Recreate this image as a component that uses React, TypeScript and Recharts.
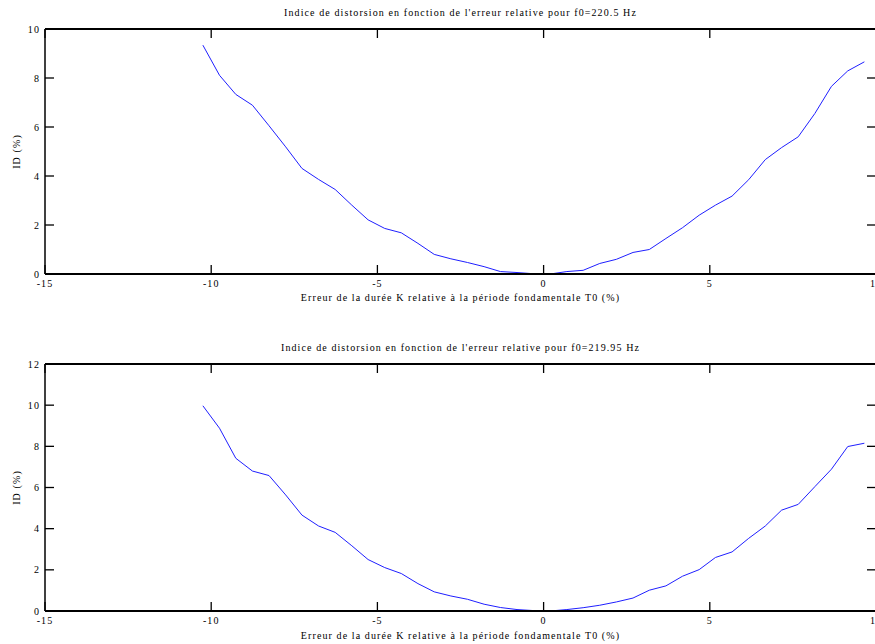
import { LineChart, Line, XAxis, YAxis } from "recharts";

// erreur relative (%) de la durée K par rapport à T0
const errPct = [
  -10.25, -9.75, -9.26, -8.76, -8.26, -7.76, -7.27, -6.77, -6.27, -5.77,
  -5.28, -4.78, -4.28, -3.78, -3.29, -2.79, -2.29, -1.79, -1.3, -0.8,
  -0.3, 0.2, 0.7, 1.19, 1.69, 2.19, 2.69, 3.18, 3.68, 4.18,
  4.68, 5.17, 5.67, 6.17, 6.67, 7.16, 7.66, 8.16, 8.66, 9.15, 9.65,
];

// ID (%) pour f0 = 220.5 Hz
const idF220_5 = [
  9.34, 8.11, 7.33, 6.89, 6.05, 5.19, 4.31, 3.86, 3.45, 2.81,
  2.21, 1.86, 1.68, 1.25, 0.8, 0.62, 0.47, 0.3, 0.1, 0.06,
  0.01, 0.0, 0.1, 0.15, 0.43, 0.6, 0.88, 1.0, 1.45, 1.89,
  2.4, 2.81, 3.18, 3.85, 4.67, 5.16, 5.6, 6.55, 7.66, 8.29, 8.66,
];

// ID (%) pour f0 = 219.95 Hz
const idF219_95 = [
  9.97, 8.88, 7.42, 6.8, 6.58, 5.64, 4.66, 4.13, 3.82, 3.17,
  2.5, 2.11, 1.82, 1.33, 0.93, 0.73, 0.57, 0.33, 0.17, 0.07,
  0.02, 0.0, 0.07, 0.16, 0.28, 0.44, 0.63, 1.01, 1.22, 1.69,
  2.01, 2.6, 2.87, 3.53, 4.13, 4.9, 5.18, 6.04, 6.89, 7.99, 8.15,
];

const xTicks = [-15, -10, -5, 0, 5, 10];
const yTicksTop = [0, 2, 4, 6, 8, 10];
const yTicksBottom = [0, 2, 4, 6, 8, 10, 12];

const titleTop = "Indice de distorsion en fonction de l'erreur relative pour f0=220.5 Hz";
const titleBottom = "Indice de distorsion en fonction de l'erreur relative pour f0=219.95 Hz";
const xLabel = "Erreur de la durée K relative à la période fondamentale T0 (%)";
const yLabel = "ID (%)";

const FONT = '"Liberation Serif", "Times New Roman", serif';
const textStyle = { fontFamily: FONT, fontSize: 10, fill: "#000" };
const tickStroke = { stroke: "#000", strokeWidth: 1.3 };

// miroir des graduations (haut / droite) : traits seulement, pas de texte
const noLabel = () => <g />;

interface PanelProps {
  values: number[];
  title: string;
  yTicks: number[];
  height: number;
  marginTop: number;
  xAxisHeight: number;
  xLabelOffset: number;
}

function Panel({ values, title, yTicks, height, marginTop, xAxisHeight, xLabelOffset }: PanelProps) {
  const data = errPct.map((x, i) => ({ x, id: values[i] }));
  const yDomain = [yTicks[0], yTicks[yTicks.length - 1]];

  return (
    <LineChart
      width={890}
      height={height}
      data={data}
      margin={{ top: marginTop, right: 13, bottom: 0, left: 0 }}
    >
      <XAxis
        dataKey="x"
        type="number"
        domain={[-15, 10]}
        ticks={xTicks}
        interval={0}
        allowDataOverflow
        height={xAxisHeight}
        tickSize={-9}
        tickMargin={15}
        tick={textStyle}
        tickLine={tickStroke}
        axisLine={{ stroke: "#000", strokeWidth: 2 }}
        label={{ value: xLabel, position: "insideBottom", offset: xLabelOffset, ...textStyle }}
      />
      <XAxis
        xAxisId="top"
        dataKey="x"
        type="number"
        orientation="top"
        domain={[-15, 10]}
        ticks={xTicks}
        interval={0}
        allowDataOverflow
        height={1}
        tickSize={-9}
        tick={noLabel}
        tickLine={tickStroke}
        axisLine={{ stroke: "#000", strokeWidth: 2 }}
        label={{ value: title, position: "top", offset: 12, ...textStyle }}
      />
      <YAxis
        type="number"
        domain={yDomain}
        ticks={yTicks}
        interval={0}
        allowDataOverflow
        width={45}
        tickSize={-9}
        tickMargin={14}
        tick={textStyle}
        tickLine={tickStroke}
        axisLine={{ stroke: "#000", strokeWidth: 1.5 }}
        label={{
          value: yLabel,
          angle: -90,
          position: "insideLeft",
          offset: 16,
          textAnchor: "middle",
          ...textStyle,
        }}
      />
      <YAxis
        yAxisId="right"
        orientation="right"
        type="number"
        domain={yDomain}
        ticks={yTicks}
        interval={0}
        allowDataOverflow
        width={1}
        tickSize={-9}
        tick={noLabel}
        tickLine={tickStroke}
        axisLine={{ stroke: "#000", strokeWidth: 1.5 }}
      />
      <Line
        type="linear"
        dataKey="id"
        stroke="#1f1fff"
        strokeWidth={1}
        dot={false}
        isAnimationActive={false}
      />
    </LineChart>
  );
}

export default function App() {
  return (
    <div
      style={{
        position: "absolute",
        left: 0,
        top: 0,
        width: 875,
        height: 644,
        overflow: "hidden",
        background: "#fff",
      }}
    >
      <style>{`.recharts-text { letter-spacing: 1.1px; }`}</style>
      <div style={{ position: "absolute", left: 0, top: 0 }}>
        <Panel
          values={idF220_5}
          title={titleTop}
          yTicks={yTicksTop}
          height={310}
          marginTop={28}
          xAxisHeight={36}
          xLabelOffset={9}
        />
      </div>
      <div style={{ position: "absolute", left: 0, top: 320 }}>
        <Panel
          values={idF219_95}
          title={titleBottom}
          yTicks={yTicksBottom}
          height={324}
          marginTop={43}
          xAxisHeight={33}
          xLabelOffset={5}
        />
      </div>
    </div>
  );
}
